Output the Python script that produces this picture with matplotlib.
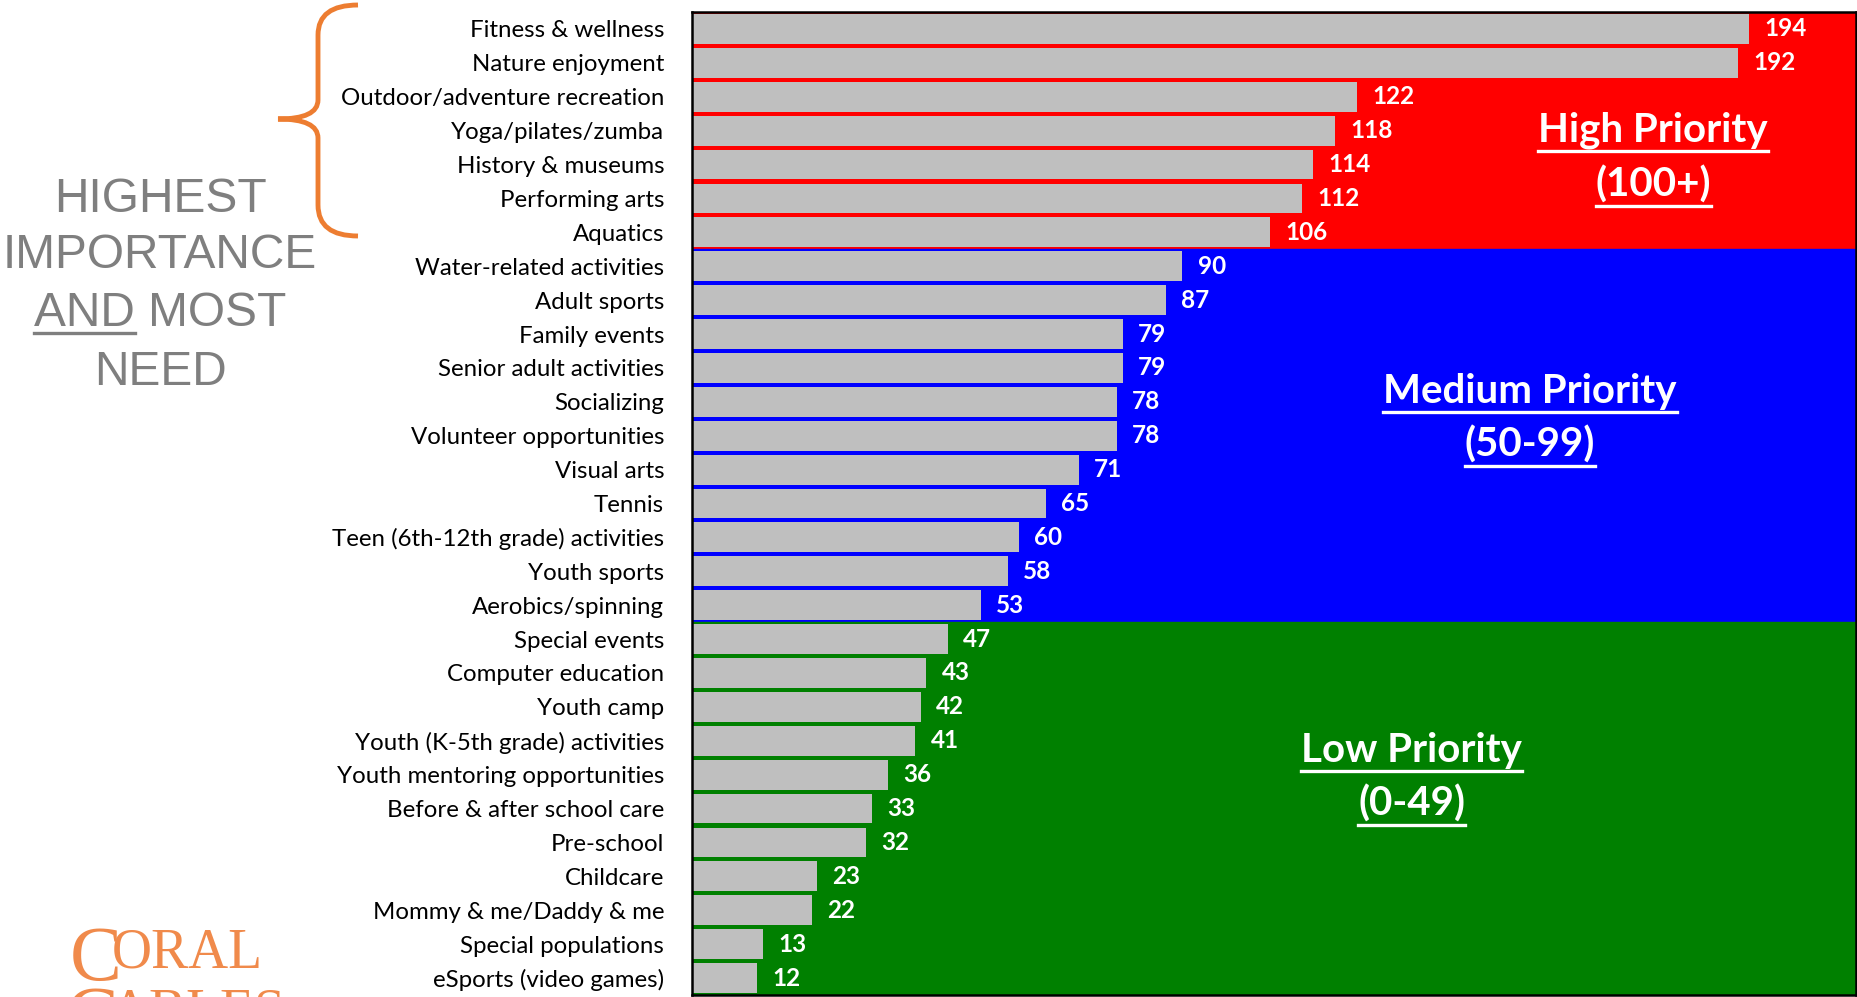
import matplotlib
matplotlib.use("Agg")
import matplotlib.pyplot as plt
from matplotlib.path import Path
from matplotlib.patches import PathPatch
from matplotlib.lines import Line2D

# data (top to bottom)
activities = ["Fitness & wellness", "Nature enjoyment", "Outdoor/adventure recreation",
              "Yoga/pilates/zumba", "History & museums", "Performing arts", "Aquatics",
              "Water-related activities", "Adult sports", "Family events",
              "Senior adult activities", "Socializing", "Volunteer opportunities",
              "Visual arts", "Tennis", "Teen (6th-12th grade) activities", "Youth sports",
              "Aerobics/spinning", "Special events", "Computer education", "Youth camp",
              "Youth (K-5th grade) activities", "Youth mentoring opportunities",
              "Before & after school care", "Pre-school", "Childcare",
              "Mommy & me/Daddy & me", "Special populations", "eSports (video games)"]
scores = [194, 192, 122, 118, 114, 112, 106, 90, 87, 79, 79, 78, 78, 71, 65, 60, 58, 53,
          47, 43, 42, 41, 36, 33, 32, 23, 22, 13, 12]

# priority bands: (first row, last row, colour, title, range)
bands = [(0, 6, "#FF0000", "High Priority", "(100+)"),
         (7, 17, "#0000FF", "Medium Priority", "(50-99)"),
         (18, 28, "#008000", "Low Priority", "(0-49)")]
band_text_pos = [(176.4, 3.0, 4.6), (153.8, 10.7, 12.26), (132.1, 21.3, 22.86)]

W, H = 1858, 997
fig = plt.figure(figsize=(W / 100, H / 100), dpi=100)
ax = fig.add_axes([692 / W, 2 / H, 1164 / W, 983 / H])

for start, end, col, _, _ in bands:
    ax.axhspan(start - 0.5, end + 0.5, color=col, zorder=0)

y = list(range(len(activities)))
ax.barh(y, scores, height=0.88, color="#BFBFBF", zorder=2)
for i, v in enumerate(scores):
    ax.annotate(str(v), (v, i), xytext=(11, 0), textcoords="offset points",
                va="center", ha="left", color="white", fontweight="bold",
                fontsize=17.5, family="Lato", zorder=3)

ax.set_xlim(0, 213.6)
ax.set_ylim(len(activities) - 0.5, -0.5)
ax.set_yticks(y)
ax.set_yticklabels(activities, fontsize=17.3, family="Lato")
ax.set_xticks([])
ax.tick_params(axis="y", length=0, pad=20)
for s in ax.spines.values():
    s.set_color("black")
    s.set_linewidth(1.8)

renderer = fig.canvas.get_renderer()


def underline(txt, color, lw, drop=2, frac=None):
    bb = txt.get_window_extent(renderer)
    x1 = bb.x1 if frac is None else bb.x0 + frac
    yy = bb.y0 - drop
    fig.add_artist(Line2D([bb.x0 / W, x1 / W], [yy / H, yy / H], color=color, lw=lw,
                          transform=fig.transFigure))


for (start, end, col, title, rng), (tx, ty1, ty2) in zip(bands, band_text_pos):
    t1 = ax.text(tx, ty1, title, ha="center", va="center", color="white",
                 fontweight="bold", fontsize=29, family="Lato", zorder=4)
    t2 = ax.text(tx, ty2, rng, ha="center", va="center", color="white",
                 fontweight="bold", fontsize=29, family="Lato", zorder=4)
    underline(t1, "white", 2.4)
    underline(t2, "white", 2.4)

# left side note
note = ["HIGHEST", "IMPORTANCE", "AND MOST", "NEED"]
note_y = [200, 256, 314, 372]
for line, yy in zip(note, note_y):
    t = fig.text(160 / W, 1 - yy / H, line, ha="center", va="center", color="#7F7F7F",
                 fontsize=34.5, family="Liberation Sans")
    if line.startswith("AND"):
        tmp = fig.text(0, 0, "AND", fontsize=34.5, family="Liberation Sans")
        w = tmp.get_window_extent(renderer).width
        tmp.remove()
        underline(t, "#7F7F7F", 2.4, drop=-3, frac=w)

# orange brace
pts = [(358, 5), (318, 5), (318, 35), (318, 100), (318, 119), (278, 119),
       (318, 119), (318, 138), (318, 205), (318, 236), (358, 236)]
codes = [Path.MOVETO, Path.CURVE3, Path.CURVE3, Path.LINETO, Path.CURVE3, Path.CURVE3,
         Path.CURVE3, Path.CURVE3, Path.LINETO, Path.CURVE3, Path.CURVE3]
pts = [(px / W, 1 - py / H) for px, py in pts]
fig.add_artist(PathPatch(Path(pts, codes), fill=False, edgecolor="#ED7D31", lw=3.5,
                         capstyle="butt", transform=fig.transFigure))

# logo
orange = "#F08A4B"
fig.text(70 / W, 1 - 980 / H, "C", color=orange, fontsize=56, family="Liberation Serif")
fig.text(112 / W, 1 - 967 / H, "ORAL", color=orange, fontsize=40, family="Liberation Serif")
fig.text(66 / W, 1 - 1040 / H, "G", color=orange, fontsize=56, family="Liberation Serif")
fig.text(110 / W, 1 - 1027 / H, "ABLES", color=orange, fontsize=40, family="Liberation Serif")

fig.savefig("out.png", dpi=100)
